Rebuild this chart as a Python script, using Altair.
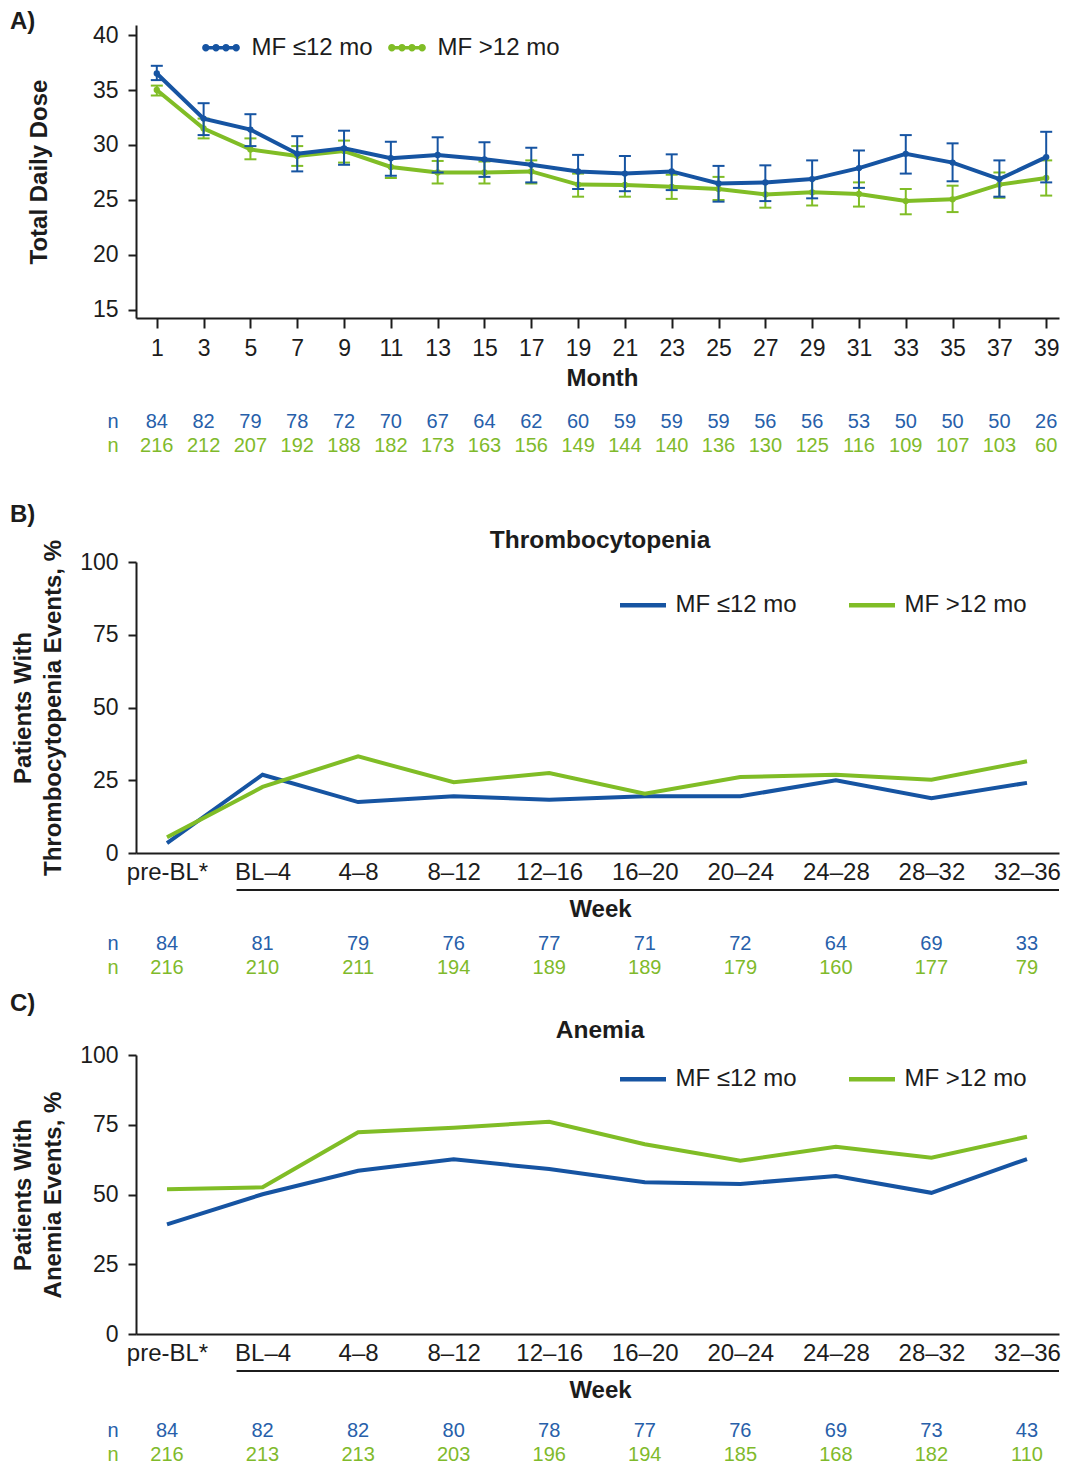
import altair as alt
import pandas as pd

FONT = "Liberation Sans"
BLUE = "#1654a2"
GREEN = "#80bd26"
INK = "#1c1c1c"
NBLUE = "#2760aa"
NGREEN = "#7fba2b"

GROUPS = ["MF ≤12 mo", "MF >12 mo"]

# ---------------- Panel A data ----------------
months = list(range(1, 40, 2))
dose_le12 = [36.5, 32.4, 31.4, 29.2, 29.7, 28.8, 29.1, 28.7, 28.2, 27.6,
             27.4, 27.6, 26.5, 26.6, 26.9, 27.9, 29.2, 28.4, 26.9, 28.9]
dose_le12_lo = [35.9, 30.9, 29.9, 27.6, 28.2, 27.2, 27.5, 27.1, 26.6, 26.0,
                25.8, 25.9, 24.85, 24.9, 25.15, 26.1, 27.4, 26.7, 25.3, 26.6]
dose_le12_hi = [37.2, 33.8, 32.8, 30.8, 31.3, 30.3, 30.7, 30.25, 29.75, 29.1,
                29.0, 29.15, 28.1, 28.15, 28.6, 29.5, 30.9, 30.15, 28.6, 31.2]
dose_gt12 = [35.0, 31.5, 29.6, 29.0, 29.45, 28.0, 27.5, 27.5, 27.6, 26.4,
             26.36, 26.2, 26.0, 25.5, 25.7, 25.55, 24.9, 25.06, 26.4, 27.0]
dose_gt12_lo = [34.5, 30.6, 28.7, 28.1, 28.4, 27.0, 26.5, 26.5, 26.5, 25.3,
                25.3, 25.1, 25.0, 24.3, 24.5, 24.4, 23.7, 23.9, 25.2, 25.4]
dose_gt12_hi = [35.4, 32.4, 30.6, 29.9, 30.4, 28.9, 28.55, 28.5, 28.6, 27.4,
                27.4, 27.3, 27.1, 26.6, 26.9, 26.6, 26.0, 26.3, 27.5, 28.6]
nA_le12 = [84, 82, 79, 78, 72, 70, 67, 64, 62, 60, 59, 59, 59, 56, 56, 53, 50, 50, 50, 26]
nA_gt12 = [216, 212, 207, 192, 188, 182, 173, 163, 156, 149, 144, 140, 136, 130, 125, 116, 109, 107, 103, 60]

# ---------------- Panels B and C data ----------------
weeks = ["pre-BL*", "BL–4", "4–8", "8–12", "12–16", "16–20", "20–24", "24–28", "28–32", "32–36"]
thr_le12 = [3.4, 26.9, 17.5, 19.5, 18.3, 19.5, 19.5, 25.0, 18.8, 24.1]
thr_gt12 = [5.4, 22.7, 33.2, 24.3, 27.5, 20.4, 26.1, 26.9, 25.2, 31.5]
nB_le12 = [84, 81, 79, 76, 77, 71, 72, 64, 69, 33]
nB_gt12 = [216, 210, 211, 194, 189, 189, 179, 160, 177, 79]
ane_le12 = [39.3, 50.1, 58.5, 62.6, 59.1, 54.4, 53.8, 56.6, 50.6, 62.7]
ane_gt12 = [51.9, 52.6, 72.3, 73.9, 76.1, 68.0, 62.1, 67.1, 63.2, 70.7]
nC_le12 = [84, 82, 82, 80, 78, 77, 76, 69, 73, 43]
nC_gt12 = [216, 213, 213, 203, 196, 194, 185, 168, 182, 110]

W = 923
HA, HB, HC = 293, 291, 279
X_LEFT = -128

color_scale = alt.Scale(domain=GROUPS, range=[BLUE, GREEN])
one = pd.DataFrame({"k": [0]})


def frame(top, bottom):
    base = alt.Chart(one)
    r1 = base.mark_rule(strokeOpacity=0, strokeWidth=1, color="white").encode(
        x=alt.value(X_LEFT), x2=alt.value(W), y=alt.value(top))
    r2 = base.mark_rule(strokeOpacity=0, strokeWidth=1, color="white").encode(
        x=alt.value(X_LEFT), x2=alt.value(W), y=alt.value(bottom))
    return [r1, r2]


def label(text, x, y, size, weight="normal", color=INK, align="center"):
    return alt.Chart(one).mark_text(
        text=text, font=FONT, fontSize=size, fontWeight=weight, color=color,
        align=align, baseline="middle").encode(x=alt.value(x), y=alt.value(y))


def circ(cx, r):
    return f"M{cx - r},0A{r},{r} 0 1,1 {cx + r},0A{r},{r} 0 1,1 {cx - r},0Z"


dot_line_path = "M-1,-0.09L1,-0.09L1,0.09L-1,0.09Z" + "".join(circ(c, 0.2) for c in [-0.82, -0.27, 0.27, 0.82])

legA = alt.Legend(
    title=None, orient="none", legendX=66.5, legendY=4, direction="horizontal",
    symbolType=dot_line_path, symbolSize=1369, symbolStrokeWidth=0, symbolOpacity=1,
    labelFont=FONT, labelFontSize=24, labelColor=INK, labelOffset=12,
    columnPadding=14, padding=0, labelLimit=400,
)


def leg_line(y):
    return alt.Legend(
        title=None, orient="none", legendX=481.5, legendY=y, direction="horizontal",
        symbolType="stroke", symbolSize=2116, symbolStrokeWidth=4.5,
        labelFont=FONT, labelFontSize=24, labelColor=INK, labelOffset=7,
        columnPadding=42, padding=0, labelLimit=400)


axis_common = dict(domainColor=INK, domainWidth=2, tickColor=INK, tickWidth=2,
                   labelColor=INK, labelFont=FONT,
                   titleFont=FONT, titleFontSize=24, titleFontWeight="bold", titleColor=INK,
                   grid=False, labelFlush=False, labelOverlap=False)

# ---------------- Panel A ----------------
rowsA = []
for g, mean, lo, hi in [(GROUPS[1], dose_gt12, dose_gt12_lo, dose_gt12_hi),
                        (GROUPS[0], dose_le12, dose_le12_lo, dose_le12_hi)]:
    for m, a, b, c in zip(months, mean, lo, hi):
        rowsA.append({"month": m, "group": g, "mean": a, "lo": b, "hi": c})
dfA = pd.DataFrame(rowsA)

axisXA = alt.Axis(values=months, title="Month", tickSize=10, labelPadding=9, titlePadding=6,
                  titleX=466, format="d", labelFontSize=23, **axis_common)
axisYA = alt.Axis(values=[15, 20, 25, 30, 35, 40], title="Total Daily Dose", tickSize=8,
                  labelPadding=10, titlePadding=41, labelFontSize=23, **axis_common)
xA = alt.X("month:Q", scale=alt.Scale(domain=[0.111, 39.547], nice=False, zero=False), axis=axisXA)


def yA(field):
    return alt.Y(f"{field}:Q", scale=alt.Scale(domain=[14.27, 40.91], nice=False, zero=False), axis=axisYA)


layersA = frame(-17, 455)
for g, col in [(GROUPS[1], GREEN), (GROUPS[0], BLUE)]:
    d = alt.Chart(dfA).transform_filter(alt.datum.group == g)
    layersA.append(d.mark_rule(strokeWidth=2, color=col).encode(x=xA, y=yA("lo"), y2="hi:Q"))
    layersA.append(d.mark_tick(orient="horizontal", size=12, thickness=2, color=col, opacity=1).encode(x=xA, y=yA("lo")))
    layersA.append(d.mark_tick(orient="horizontal", size=12, thickness=2, color=col, opacity=1).encode(x=xA, y=yA("hi")))
    layersA.append(d.mark_line(strokeWidth=4, color=col).encode(x=xA, y=yA("mean")))
    layersA.append(d.mark_point(filled=True, size=40, opacity=1).encode(
        x=xA, y=yA("mean"), fill=alt.Fill("group:N", scale=color_scale, legend=legA)))

dfNA = pd.DataFrame({"month": months, "nb": nA_le12, "ng": nA_gt12})
layersA.append(alt.Chart(dfNA).mark_text(font=FONT, fontSize=20, color=NBLUE, baseline="middle").encode(
    x=xA, y=alt.value(397), text="nb:N"))
layersA.append(alt.Chart(dfNA).mark_text(font=FONT, fontSize=20, color=NGREEN, baseline="middle").encode(
    x=xA, y=alt.value(421), text="ng:N"))
layersA.append(label("n", -23, 397, 20, color=NBLUE))
layersA.append(label("n", -23, 421, 20, color=NGREEN))
layersA.append(label("A)", X_LEFT + 2, -3.5, 24, weight="bold", align="left"))

panelA = alt.layer(*layersA).properties(width=W, height=HA)


# ---------------- Panels B / C ----------------
def event_panel(vals_le, vals_gt, n_le, n_gt, H, letter, title, ytitle, legY,
                letterY, titleY, nY1, nY2, top, bottom):
    df = pd.DataFrame({"week": weeks * 2,
                       "group": [GROUPS[0]] * len(weeks) + [GROUPS[1]] * len(weeks),
                       "pct": vals_le + vals_gt})
    x = alt.X("week:N", sort=weeks,
              scale=alt.Scale(type="point", domain=weeks, padding=0.3297, align=0.492),
              axis=alt.Axis(title="Week", ticks=False, labelAngle=0, labelPadding=7, titlePadding=13,
                            titleX=464, labelFontSize=24, **axis_common))
    y = alt.Y("pct:Q", scale=alt.Scale(domain=[0, 100], nice=False),
              axis=alt.Axis(values=[0, 25, 50, 75, 100], title=ytitle, tickSize=8, labelPadding=10,
                            titlePadding=14, titleLineHeight=30, labelFontSize=23, **axis_common))
    color = alt.Color("group:N", scale=color_scale, legend=leg_line(legY))
    layers = frame(top, bottom)
    for g in [GROUPS[0], GROUPS[1]]:
        layers.append(alt.Chart(df).transform_filter(alt.datum.group == g).mark_line(strokeWidth=4).encode(
            x=x, y=y, color=color))
    dfn = pd.DataFrame({"week": weeks, "nb": n_le, "ng": n_gt})
    layers.append(alt.Chart(dfn).mark_text(font=FONT, fontSize=20, color=NBLUE, baseline="middle").encode(
        x=x, y=alt.value(nY1), text="nb:N"))
    layers.append(alt.Chart(dfn).mark_text(font=FONT, fontSize=20, color=NGREEN, baseline="middle").encode(
        x=x, y=alt.value(nY2), text="ng:N"))
    layers.append(label("n", -23, nY1, 20, color=NBLUE))
    layers.append(label("n", -23, nY2, 20, color=NGREEN))
    # underline grouping the on-treatment week intervals, starting at the first interval
    under = pd.DataFrame({"week": [weeks[1]]})
    layers.append(alt.Chart(under).mark_rule(color=INK, strokeWidth=2, xOffset=-26).encode(
        x=x, x2=alt.value(W), y=alt.value(H + 37)))
    layers.append(label(letter, X_LEFT + 2, letterY, 24, weight="bold", align="left"))
    layers.append(label(title, 464, titleY, 24.5, weight="bold"))
    return alt.layer(*layers).properties(width=W, height=H)


panelB = event_panel(thr_le12, thr_gt12, nB_le12, nB_gt12, HB, "B)", "Thrombocytopenia",
                     ["Patients With", "Thrombocytopenia Events, %"], 17.5, -47, -21, HB + 91, HB + 115, -82, 418)
panelC = event_panel(ane_le12, ane_gt12, nC_le12, nC_gt12, HC, "C)", "Anemia",
                     ["Patients With", "Anemia Events, %"], -1.5, -51, -24, HC + 97, HC + 121, -75, 412)

chart = alt.vconcat(panelA, panelB, panelC, spacing=0).properties(
    padding={"left": 0, "top": 0, "right": 0, "bottom": 0}
).resolve_legend(color="independent", fill="independent").configure_view(stroke=None)

chart.save("out.html", embed_options={"renderer": "svg", "actions": False})
